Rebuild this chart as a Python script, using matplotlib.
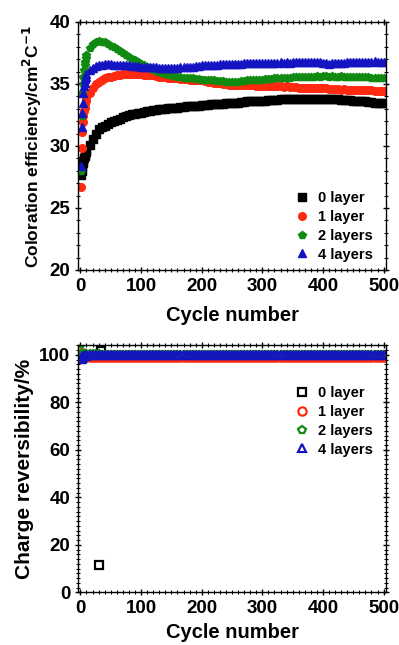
import numpy as np
import matplotlib
matplotlib.use("Agg")
import matplotlib.pyplot as plt
from matplotlib.ticker import MultipleLocator

plt.rcParams['font.family'] = ['Liberation Sans', 'DejaVu Sans']
plt.rcParams['font.weight'] = 'bold'
plt.rcParams['mathtext.default'] = 'bf'

# cycle numbers: 1..10 then every 5 cycles
cycles = np.r_[np.arange(1, 11), np.arange(15, 501, 5)]

labels = ['0 layer', '1 layer', '2 layers', '4 layers']
colors = ['#000000', '#ff2a10', '#118a11', '#1414c0']
markers = ['s', 'o', 'p', '^']

# coloration efficiency (cm2/C)
ce_0 = [27.7, 28.0, 28.3, 28.6, 28.8, 29.0, 29.2, 29.3, 29.5, 29.6,
        30.1, 30.6, 31.0, 31.4, 31.5, 31.6, 31.8, 31.9, 32.0, 32.1, 32.2, 32.3, 32.4, 32.5, 32.55, 32.6, 32.65, 32.7,
        32.75, 32.8, 32.85, 32.9, 32.9, 32.95, 33.0, 33.0, 33.05, 33.1,
        33.1, 33.1, 33.15, 33.15, 33.2, 33.2, 33.2, 33.25, 33.25, 33.3,
        33.3, 33.3, 33.35, 33.35, 33.4, 33.4, 33.4, 33.45, 33.45, 33.5,
        33.5, 33.5, 33.55, 33.55, 33.6, 33.6, 33.6, 33.6, 33.65, 33.65,
        33.65, 33.7, 33.7, 33.7, 33.7, 33.75, 33.75, 33.75, 33.75, 33.8,
        33.8, 33.8, 33.8, 33.8, 33.8, 33.8, 33.8, 33.8, 33.8, 33.8,
        33.8, 33.8, 33.75, 33.75, 33.75, 33.7, 33.7, 33.7, 33.7, 33.65,
        33.65, 33.6, 33.6, 33.6, 33.55, 33.55, 33.5, 33.5, 33.5, 33.5]
ce_1 = [26.7, 29.8, 31.1, 31.9, 32.4, 32.8, 33.1, 33.4, 33.6, 33.8,
        34.3, 34.7, 35.0, 35.2, 35.35, 35.45, 35.55, 35.6, 35.65, 35.7, 35.75, 35.8, 35.8, 35.8, 35.8, 35.8, 35.8, 35.8,
        35.75, 35.75, 35.7, 35.7, 35.65, 35.6, 35.6, 35.55, 35.5, 35.5,
        35.45, 35.45, 35.4, 35.4, 35.4, 35.35, 35.35, 35.3, 35.3, 35.3,
        35.25, 35.2, 35.2, 35.1, 35.1, 35.05, 35.0, 35.0, 34.95, 34.95,
        34.9, 34.9, 34.95, 34.95, 34.9, 34.9, 34.9, 34.85, 34.85, 34.85,
        34.85, 34.8, 34.85, 34.8, 34.8, 34.8, 34.75, 34.8, 34.75, 34.75,
        34.75, 34.7, 34.7, 34.7, 34.7, 34.7, 34.7, 34.65, 34.7, 34.65,
        34.65, 34.6, 34.6, 34.6, 34.6, 34.55, 34.6, 34.55, 34.55, 34.55,
        34.55, 34.5, 34.5, 34.5, 34.5, 34.5, 34.45, 34.45, 34.45, 34.45]
ce_2 = [27.95, 32.4, 34.3, 35.0, 35.6, 36.1, 36.5, 36.8, 37.1, 37.3,
        37.9, 38.2, 38.4, 38.5, 38.4, 38.35, 38.2, 38.1, 37.95, 37.8, 37.65, 37.5, 37.35, 37.2, 37.05, 36.9, 36.75, 36.6,
        36.5, 36.35, 36.25, 36.15, 36.05, 35.95, 35.9, 35.8, 35.75, 35.7,
        35.65, 35.6, 35.55, 35.5, 35.5, 35.45, 35.45, 35.4, 35.4, 35.35,
        35.35, 35.3, 35.3, 35.3, 35.25, 35.25, 35.25, 35.2, 35.2, 35.2,
        35.2, 35.2, 35.25, 35.25, 35.3, 35.3, 35.3, 35.35, 35.35, 35.35,
        35.4, 35.4, 35.4, 35.45, 35.45, 35.5, 35.5, 35.5, 35.5, 35.55,
        35.55, 35.55, 35.6, 35.6, 35.6, 35.6, 35.6, 35.65, 35.6, 35.65,
        35.65, 35.6, 35.65, 35.6, 35.6, 35.65, 35.6, 35.6, 35.6, 35.6,
        35.6, 35.55, 35.55, 35.55, 35.55, 35.5, 35.5, 35.5, 35.5, 35.5]
ce_4 = [28.4, 31.5, 32.7, 33.5, 34.3, 34.8, 35.1, 35.4, 35.6, 35.8,
        36.1, 36.3, 36.45, 36.5, 36.55, 36.6, 36.6, 36.6, 36.55, 36.55, 36.5, 36.5, 36.5, 36.5, 36.45, 36.45, 36.45, 36.4,
        36.4, 36.4, 36.35, 36.35, 36.35, 36.3, 36.3, 36.3, 36.3, 36.3,
        36.3, 36.3, 36.35, 36.35, 36.4, 36.4, 36.4, 36.45, 36.45, 36.5,
        36.5, 36.5, 36.55, 36.55, 36.55, 36.6, 36.6, 36.6, 36.6, 36.65,
        36.65, 36.65, 36.65, 36.7, 36.7, 36.7, 36.7, 36.7, 36.7, 36.7,
        36.7, 36.7, 36.7, 36.7, 36.7, 36.75, 36.7, 36.75, 36.7, 36.75,
        36.75, 36.75, 36.75, 36.75, 36.75, 36.75, 36.75, 36.75, 36.75, 36.7,
        36.7, 36.65, 36.7, 36.7, 36.7, 36.7, 36.7, 36.75, 36.75, 36.75,
        36.75, 36.75, 36.8, 36.75, 36.8, 36.8, 36.85, 36.8, 36.8, 36.75]

# charge reversibility (%)
cr_0 = [98.5, 98.8, 99.0, 99.2, 99.3, 99.4, 99.5, 99.5, 99.6, 99.6,
        99.6, 99.6, 99.7, 99.7, 99.7, 99.7, 99.7, 99.7, 99.7, 99.7, 99.7, 99.7, 99.7, 99.7, 99.7, 99.7, 99.7, 99.7,
        99.7, 99.7, 99.7, 99.7, 99.7, 99.7, 99.7, 99.7, 99.7, 99.7,
        99.7, 99.7, 99.7, 99.7, 99.7, 99.7, 99.7, 99.7, 99.7, 99.7,
        99.7, 99.7, 99.7, 99.7, 99.7, 99.7, 99.7, 99.7, 99.7, 99.7,
        99.7, 99.7, 99.7, 99.7, 99.7, 99.7, 99.7, 99.7, 99.7, 99.7,
        99.7, 99.7, 99.7, 99.7, 99.7, 99.7, 99.7, 99.7, 99.7, 99.7,
        99.7, 99.7, 99.7, 99.7, 99.7, 99.7, 99.7, 99.7, 99.7, 99.7,
        99.7, 99.7, 99.7, 99.7, 99.7, 99.7, 99.7, 99.7, 99.7, 99.7,
        99.7, 99.7, 99.7, 99.7, 99.7, 99.7, 99.7, 99.7, 99.7, 99.7]
cr_0_odd_cycles = [31, 34]
cr_0_odd = [11.5, 101.8]
cr_1 = [99.0, 101.0, 100.2, 99.8, 99.6, 99.5, 99.5, 99.4, 99.4, 99.4,
        99.3, 99.3, 99.3, 99.3, 99.3, 99.3, 99.3, 99.3, 99.3, 99.3, 99.3, 99.3, 99.3, 99.3, 99.3, 99.3, 99.3, 99.3,
        99.3, 99.3, 99.3, 99.3, 99.3, 99.3, 99.3, 99.3, 99.3, 99.3,
        99.3, 99.3, 99.3, 99.3, 99.3, 99.3, 99.3, 99.3, 99.3, 99.3,
        99.3, 99.3, 99.3, 99.3, 99.3, 99.3, 99.3, 99.3, 99.3, 99.3,
        99.3, 99.3, 99.3, 99.3, 99.3, 99.3, 99.3, 99.3, 99.3, 99.3,
        99.3, 99.3, 99.3, 99.3, 99.3, 99.3, 99.3, 99.3, 99.3, 99.3,
        99.3, 99.3, 99.3, 99.3, 99.3, 99.3, 99.3, 99.3, 99.3, 99.3,
        99.3, 99.3, 99.3, 99.3, 99.3, 99.3, 99.3, 99.3, 99.3, 99.3,
        99.3, 99.3, 99.3, 99.3, 99.3, 99.3, 99.3, 99.3, 99.3, 99.3]
cr_2 = [104.5, 100.5, 100.3, 100.3, 100.4, 100.4, 100.4, 100.4, 100.4, 100.4,
        100.4, 100.4, 100.3, 100.3, 100.2, 100.1, 100.0, 100.0, 100.0, 99.9, 99.9, 99.9, 99.9, 99.9, 99.9, 99.9, 99.9, 99.9,
        99.9, 99.9, 99.9, 99.9, 99.9, 99.9, 99.9, 99.9, 99.9, 99.9,
        99.9, 99.9, 99.9, 99.9, 99.9, 99.9, 99.9, 99.9, 99.9, 99.9,
        99.9, 99.9, 99.9, 99.9, 99.9, 99.9, 99.9, 99.9, 99.9, 99.9,
        99.9, 99.9, 99.9, 99.9, 99.9, 99.9, 99.9, 99.9, 99.9, 99.9,
        99.9, 99.9, 99.9, 99.9, 99.9, 99.9, 99.9, 99.9, 99.9, 99.9,
        99.9, 99.9, 99.9, 99.9, 99.9, 99.9, 99.9, 99.9, 99.9, 99.9,
        99.9, 99.9, 99.9, 99.9, 99.9, 99.9, 99.9, 99.9, 99.9, 99.9,
        99.9, 99.9, 99.9, 99.9, 99.9, 99.9, 99.9, 99.9, 99.9, 99.9]
cr_4 = [98.3, 98.8, 99.2, 99.4, 99.5, 99.6, 99.7, 99.7, 99.8, 99.8,
        99.8, 99.8, 99.8, 99.8, 99.8, 99.8, 99.8, 99.8, 99.8, 99.8, 99.8, 99.8, 99.8, 99.8, 99.8, 99.8, 99.8, 99.8,
        99.8, 99.8, 99.8, 99.8, 99.8, 99.8, 99.8, 99.8, 99.8, 99.8,
        99.8, 99.8, 99.8, 99.8, 99.8, 99.8, 99.8, 99.8, 99.8, 99.8,
        99.8, 99.8, 99.8, 99.8, 99.8, 99.8, 99.8, 99.8, 99.8, 99.8,
        99.8, 99.8, 99.8, 99.8, 99.8, 99.8, 99.8, 99.8, 99.8, 99.8,
        99.8, 99.8, 99.8, 99.8, 99.8, 99.8, 99.8, 99.8, 99.8, 99.8,
        99.8, 99.8, 99.8, 99.8, 99.8, 99.8, 99.8, 99.8, 99.8, 99.8,
        99.8, 99.8, 99.8, 99.8, 99.8, 99.8, 99.8, 99.8, 99.8, 99.8,
        99.8, 99.8, 99.8, 99.8, 99.8, 99.8, 99.8, 99.8, 99.8, 99.8]

fig = plt.figure(figsize=(3.99, 6.45), dpi=100)
ax1 = fig.add_axes([0.1955, 0.5814, 0.772, 0.3845])
ax2 = fig.add_axes([0.1955, 0.0814, 0.772, 0.3837])

# top: filled markers
for vals, lab, c, m in zip([ce_0, ce_1, ce_2, ce_4], labels, colors, markers):
    ax1.plot(cycles, vals, ls='none', marker=m, ms=5.5, color=c, mec=c, label=lab)

# bottom: open markers
cr0_x = np.r_[cycles, cr_0_odd_cycles]
cr0_y = np.r_[cr_0, cr_0_odd]
for x, vals, lab, c, m in zip([cr0_x, cycles, cycles, cycles], [cr0_y, cr_1, cr_2, cr_4], labels, colors, markers):
    ax2.plot(x, vals, ls='none', marker=m, ms=6, mfc='none', mec=c, mew=1.6, label=lab)

ax1.set_ylim(20, 40)
ax2.set_ylim(0, 104.2)
ax1.yaxis.set_major_locator(MultipleLocator(5))
ax1.yaxis.set_minor_locator(MultipleLocator(1))
ax2.yaxis.set_major_locator(MultipleLocator(20))
ax2.yaxis.set_minor_locator(MultipleLocator(2))

for ax in (ax1, ax2):
    ax.set_xlim(-4, 504)
    ax.xaxis.set_major_locator(MultipleLocator(100))
    ax.xaxis.set_minor_locator(MultipleLocator(10))
    ax.tick_params(which='both', direction='inout', top=True, right=True, labelsize=13.5, pad=3)
    ax.tick_params(which='major', length=5, width=1)
    ax.tick_params(which='minor', length=3, width=0.8)
    for s in ax.spines.values():
        s.set_linewidth(1.0)

ax1.set_xlabel('Cycle number', fontsize=14.5, fontweight='bold', labelpad=8)
ax2.set_xlabel('Cycle number', fontsize=14.5, fontweight='bold', labelpad=4)
ax1.set_ylabel('Coloration efficiency/cm$^2$C$^{-1}$', fontsize=12.5, fontweight='bold', labelpad=4)
ax2.set_ylabel('Charge reversibility/%', fontsize=15, fontweight='bold', labelpad=4)

leg_kw = dict(frameon=False, fontsize=10.5, handlelength=1.0, handletextpad=0.6,
              labelspacing=0.33, borderpad=0.4)
ax1.legend(loc='upper left', bbox_to_anchor=(0.662, 0.371), **leg_kw)
ax2.legend(loc='upper left', bbox_to_anchor=(0.662, 0.887), **leg_kw)

fig.savefig('out.png', dpi=100)
